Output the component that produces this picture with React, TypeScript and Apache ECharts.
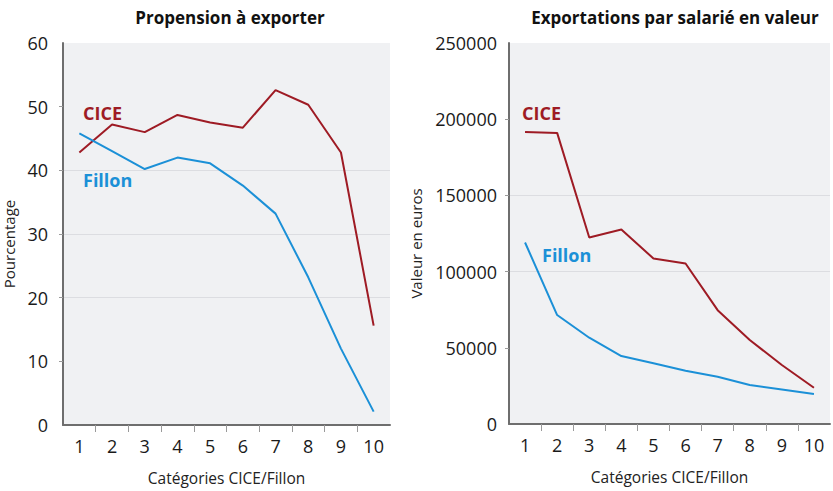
import React, { useEffect, useRef } from "react";
import * as echarts from "echarts";

const categories = [1, 2, 3, 4, 5, 6, 7, 8, 9, 10];
const propensionCICE = [42.8, 47.2, 46.0, 48.7, 47.5, 46.7, 52.6, 50.3, 42.8, 15.6];
const propensionFillon = [45.8, 43.0, 40.2, 42.0, 41.1, 37.6, 33.2, 23.2, 12.0, 2.1];
const exportCICE = [191600, 191000, 122400, 127600, 108600, 105300, 74700, 55100, 38700, 23800];
const exportFillon = [119100, 71500, 56600, 44600, 39800, 35000, 31000, 25600, 22700, 19700];
const tickBetween = [1.5, 2.5, 3.5, 4.5, 5.5, 6.5, 7.5, 8.5, 9.5];
const leftYTicks = [10, 20, 30, 40, 50];
const rightYTicks = [50000, 100000, 150000, 200000];

const RED = "#9e1b24";
const BLUE = "#1b90d7";
const FONT = "'Open Sans', sans-serif";

const pairs = (vals: number[]) => categories.map((c, i) => [c, vals[i]]);

export default function App() {
  const ref = useRef<HTMLDivElement>(null);
  useEffect(() => {
    if (!ref.current) return;
    const chart = echarts.init(ref.current, undefined, { renderer: "svg" });
    const xAxisBase = (gridIndex: number) => ({
      type: "value" as const,
      gridIndex,
      min: 0.5,
      max: 10.5,
      name: "Catégories CICE/Fillon",
      nameLocation: "middle" as const,
      nameGap: 45,
      nameTextStyle: { fontFamily: FONT, fontSize: 15.5, color: "#222" },
      axisLine: { show: true, onZero: false, lineStyle: { color: "#6e6e6e", width: 2 } },
      axisTick: { show: true, customValues: tickBetween, length: 7, lineStyle: { color: "#9a9a9a", width: 1 } },
      axisLabel: { customValues: categories, fontFamily: FONT, fontSize: 18, color: "#1a1a1a", margin: 12 },
      splitLine: { show: false },
    });
    const yAxisBase = (gridIndex: number, max: number, interval: number, ticks: number[], name: string, gap: number, margin: number) => ({
      type: "value" as const,
      gridIndex,
      min: 0,
      max,
      interval,
      name,
      nameLocation: "middle" as const,
      nameGap: gap,
      nameTextStyle: { fontFamily: FONT, fontSize: 15, color: "#222", padding: [0, 20, 0, 0] },
      axisLine: { show: true, lineStyle: { color: "#6e6e6e", width: 2 } },
      axisTick: { show: true, customValues: ticks, length: 4, lineStyle: { color: "#9a9a9a", width: 1 } },
      axisLabel: { fontFamily: FONT, fontSize: 18, color: "#1a1a1a", margin: margin, formatter: (v: number) => String(v) },
      splitLine: { show: true, showMinLine: false, showMaxLine: false, lineStyle: { color: "#dcdde1", width: 1 } },
    });
    const labelText = (x: number, y: number, text: string, color: string) => ({
      type: "text" as const,
      x,
      y,
      style: { text, fill: color, font: `bold 18px ${FONT}`, textVerticalAlign: "middle" },
    });
    chart.setOption({
      animation: false,
      title: [
        { text: "Propension à exporter", left: 225, top: 4, textAlign: "center", textStyle: { fontFamily: FONT, fontSize: 17, fontWeight: "bold", color: "#111" } },
        { text: "Exportations par salarié en valeur", left: 670, top: 4, textAlign: "center", textStyle: { fontFamily: FONT, fontSize: 17, fontWeight: "bold", color: "#111" } },
      ],
      grid: [
        { left: 60, top: 43, width: 330, height: 383, show: true, backgroundColor: "#f0f1f3", borderWidth: 0 },
        { left: 509, top: 43, width: 321, height: 381, show: true, backgroundColor: "#f0f1f3", borderWidth: 0 },
      ],
      xAxis: [xAxisBase(0), xAxisBase(1)],
      yAxis: [
        yAxisBase(0, 60, 10, leftYTicks, "Pourcentage", 47, 15),
        yAxisBase(1, 250000, 50000, rightYTicks, "Valeur en euros", 86, 12),
      ],
      series: [
        { type: "line", name: "CICE", xAxisIndex: 0, yAxisIndex: 0, data: pairs(propensionCICE), showSymbol: false, lineStyle: { color: RED, width: 2 }, itemStyle: { color: RED } },
        { type: "line", name: "Fillon", xAxisIndex: 0, yAxisIndex: 0, data: pairs(propensionFillon), showSymbol: false, lineStyle: { color: BLUE, width: 2 }, itemStyle: { color: BLUE } },
        { type: "line", name: "CICE", xAxisIndex: 1, yAxisIndex: 1, data: pairs(exportCICE), showSymbol: false, lineStyle: { color: RED, width: 2 }, itemStyle: { color: RED } },
        { type: "line", name: "Fillon", xAxisIndex: 1, yAxisIndex: 1, data: pairs(exportFillon), showSymbol: false, lineStyle: { color: BLUE, width: 2 }, itemStyle: { color: BLUE } },
      ],
      graphic: [
        labelText(83, 113, "CICE", RED),
        labelText(83, 180, "Fillon", BLUE),
        labelText(522, 113, "CICE", RED),
        labelText(542, 255, "Fillon", BLUE),
      ],
    });
    return () => chart.dispose();
  }, []);
  return <div ref={ref} style={{ width: 833, height: 491, position: "absolute", left: 0, top: 0 }} />;
}
